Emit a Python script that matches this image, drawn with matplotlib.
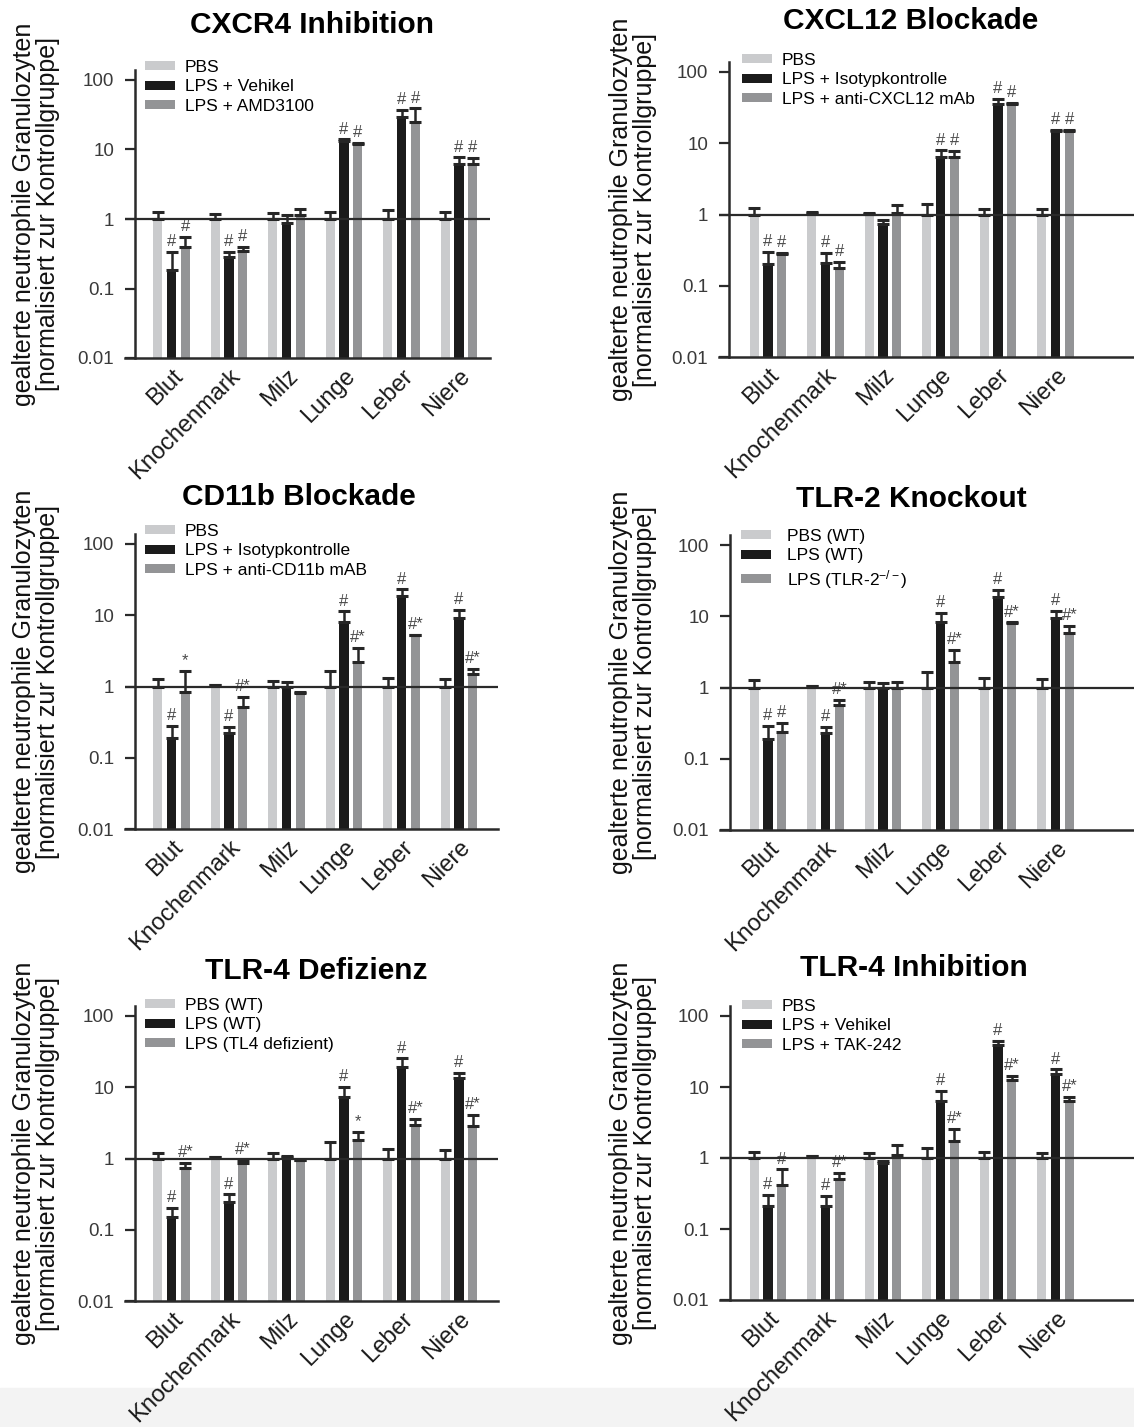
import matplotlib
matplotlib.use("Agg")
import matplotlib.pyplot as plt
from matplotlib.patches import Rectangle
import numpy as np

plt.rcParams["font.family"] = ["Liberation Sans", "DejaVu Sans"]
plt.rcParams["mathtext.fontset"] = "custom"
plt.rcParams["mathtext.rm"] = "Liberation Sans"
plt.rcParams["mathtext.it"] = "Liberation Sans:italic"

organs = ["Blut", "Knochenmark", "Milz", "Lunge", "Leber", "Niere"]
y_ticks = [0.01, 0.1, 1, 10, 100]
y_tick_labels = ["0.01", "0.1", "1", "10", "100"]
y_label = "gealterte neutrophile Granulozyten\n[normalisiert zur Kontrollgruppe]"

# --- CXCR4 Inhibition ---
cxcr4_labels = ["PBS", "LPS + Vehikel", "LPS + AMD3100"]
cxcr4_pbs = [1.0, 1.0, 1.0, 1.0, 1.0, 1.0]
cxcr4_pbs_hi = [1.25, 1.17, 1.24, 1.26, 1.33, 1.25]
cxcr4_lps = [0.186, 0.28, 0.89, 13.4, 29.7, 6.2]
cxcr4_lps_hi = [0.34, 0.34, 1.15, 14.0, 37.0, 7.7]
cxcr4_trt = [0.40, 0.35, 1.15, 12.0, 25.2, 6.2]
cxcr4_trt_hi = [0.56, 0.40, 1.40, 12.5, 39.0, 7.5]
cxcr4_lps_sig = ["#", "#", "", "#", "#", "#"]
cxcr4_trt_sig = ["#", "#", "", "#", "#", "#"]

# --- CXCL12 Blockade ---
cxcl12_labels = ["PBS", "LPS + Isotypkontrolle", "LPS + anti-CXCL12 mAb"]
cxcl12_pbs = [1.0, 1.05, 1.03, 1.0, 1.0, 1.0]
cxcl12_pbs_hi = [1.25, 1.07, 1.04, 1.39, 1.21, 1.18]
cxcl12_lps = [0.20, 0.21, 0.73, 6.4, 36.0, 14.9]
cxcl12_lps_hi = [0.30, 0.29, 0.85, 7.95, 41.8, 15.5]
cxcl12_trt = [0.28, 0.18, 1.05, 6.5, 36.0, 14.9]
cxcl12_trt_hi = [0.29, 0.215, 1.35, 7.8, 37.0, 15.5]
cxcl12_lps_sig = ["#", "#", "", "#", "#", "#"]
cxcl12_trt_sig = ["#", "#", "", "#", "#", "#"]

# --- CD11b Blockade ---
cd11b_labels = ["PBS", "LPS + Isotypkontrolle", "LPS + anti-CD11b mAB"]
cd11b_pbs = [1.0, 1.05, 1.0, 1.0, 1.0, 1.0]
cd11b_pbs_hi = [1.27, 1.06, 1.2, 1.66, 1.33, 1.27]
cd11b_lps = [0.19, 0.226, 1.0, 8.15, 18.7, 9.1]
cd11b_lps_hi = [0.28, 0.27, 1.15, 11.3, 23.1, 11.9]
cd11b_trt = [0.85, 0.52, 0.82, 2.24, 5.2, 1.5]
cd11b_trt_hi = [1.66, 0.71, 0.85, 3.44, 5.3, 1.75]
cd11b_lps_sig = ["#", "#", "", "#", "#", "#"]
cd11b_trt_sig = ["*", "#*", "", "#*", "#*", "#*"]

# --- TLR-2 Knockout ---
tlr2_labels = ["PBS (WT)", "LPS (WT)", r"LPS (TLR-2$^{\mathrm{-/-}}$)"]
tlr2_pbs = [1.0, 1.05, 1.0, 1.0, 1.0, 1.0]
tlr2_pbs_hi = [1.27, 1.06, 1.2, 1.67, 1.34, 1.3]
tlr2_lps = [0.19, 0.227, 1.0, 8.4, 18.8, 9.3]
tlr2_lps_hi = [0.29, 0.28, 1.15, 11.2, 23.4, 12.0]
tlr2_trt = [0.24, 0.56, 1.0, 2.3, 8.1, 5.9]
tlr2_trt_hi = [0.32, 0.67, 1.2, 3.4, 8.2, 7.3]
tlr2_lps_sig = ["#", "#", "", "#", "#", "#"]
tlr2_trt_sig = ["#", "#*", "", "#*", "#*", "#*"]

# --- TLR-4 Defizienz ---
tlr4d_labels = ["PBS (WT)", "LPS (WT)", "LPS (TL4 defizient)"]
tlr4d_pbs = [1.0, 1.05, 1.0, 1.0, 1.0, 1.0]
tlr4d_pbs_hi = [1.21, 1.06, 1.21, 1.69, 1.34, 1.3]
tlr4d_lps = [0.149, 0.248, 1.05, 7.2, 19.5, 13.3]
tlr4d_lps_hi = [0.204, 0.314, 1.1, 10.2, 25.5, 16.0]
tlr4d_trt = [0.74, 0.87, 0.95, 1.82, 2.95, 2.86]
tlr4d_trt_hi = [0.87, 0.95, 0.96, 2.33, 3.58, 4.1]
tlr4d_lps_sig = ["#", "#", "", "#", "#", "#"]
tlr4d_trt_sig = ["#*", "#*", "", "*", "#*", "#*"]

# --- TLR-4 Inhibition ---
tlr4i_labels = ["PBS", "LPS + Vehikel", "LPS + TAK-242"]
tlr4i_pbs = [1.0, 1.05, 1.0, 1.0, 1.0, 1.0]
tlr4i_pbs_hi = [1.23, 1.06, 1.19, 1.37, 1.23, 1.16]
tlr4i_lps = [0.21, 0.21, 0.86, 6.4, 39.0, 15.1]
tlr4i_lps_hi = [0.30, 0.29, 0.91, 8.8, 44.5, 17.7]
tlr4i_trt = [0.42, 0.50, 1.1, 1.75, 12.5, 6.4]
tlr4i_trt_hi = [0.69, 0.61, 1.52, 2.6, 14.3, 7.3]
tlr4i_lps_sig = ["#", "#", "", "#", "#", "#"]
tlr4i_trt_sig = ["#", "#*", "", "#*", "#*", "#*"]

panels = [
    ("CXCR4 Inhibition", cxcr4_labels, cxcr4_pbs, cxcr4_pbs_hi, cxcr4_lps, cxcr4_lps_hi,
     cxcr4_trt, cxcr4_trt_hi, cxcr4_lps_sig, cxcr4_trt_sig),
    ("CXCL12 Blockade", cxcl12_labels, cxcl12_pbs, cxcl12_pbs_hi, cxcl12_lps, cxcl12_lps_hi,
     cxcl12_trt, cxcl12_trt_hi, cxcl12_lps_sig, cxcl12_trt_sig),
    ("CD11b Blockade", cd11b_labels, cd11b_pbs, cd11b_pbs_hi, cd11b_lps, cd11b_lps_hi,
     cd11b_trt, cd11b_trt_hi, cd11b_lps_sig, cd11b_trt_sig),
    ("TLR-2 Knockout", tlr2_labels, tlr2_pbs, tlr2_pbs_hi, tlr2_lps, tlr2_lps_hi,
     tlr2_trt, tlr2_trt_hi, tlr2_lps_sig, tlr2_trt_sig),
    ("TLR-4 Defizienz", tlr4d_labels, tlr4d_pbs, tlr4d_pbs_hi, tlr4d_lps, tlr4d_lps_hi,
     tlr4d_trt, tlr4d_trt_hi, tlr4d_lps_sig, tlr4d_trt_sig),
    ("TLR-4 Inhibition", tlr4i_labels, tlr4i_pbs, tlr4i_pbs_hi, tlr4i_lps, tlr4i_lps_hi,
     tlr4i_trt, tlr4i_trt_hi, tlr4i_lps_sig, tlr4i_trt_sig),
]

COLORS = ["#cacbcd", "#1b1b1b", "#939496"]
ERR_COLOR = "#262626"

# layout in pixels: axes left, axes right, y of 0.01 line, px per decade
W, H = 1134, 1427
boxes = [(125, 490, 358, 69.5), (719, 1134, 357, 71.25),
         (125, 498, 829, 71.25), (720, 1134, 830, 71.25),
         (125, 498, 1301, 71.25), (720, 1134, 1300, 71.0)]
title_pos = [(312, 25), (911, 21), (299, 497), (911, 499), (316, 971), (914, 968)]
legend_pos = [(145, 60), (742, 53), (145, 524), (741, 529), (145, 998), (742, 999)]
text_pad = [0.55, 0.55, 0.55, 0.9, 0.55, 0.55]
YMAX = 138.0
GROUP_PX = 57.5
width = 0.157
offset = 0.243

fig = plt.figure(figsize=(W / 100, H / 100), dpi=100)
fig.add_artist(Rectangle((0, 0), 1, 39 / H, transform=fig.transFigure,
                         color="#f3f3f3", zorder=0))

x = np.arange(len(organs))
for i, (title, labels, pbs, pbs_hi, lps, lps_hi, trt, trt_hi, lps_sig, trt_sig) in enumerate(panels):
    left, right, base, dec = boxes[i]
    h = (np.log10(YMAX) + 2) * dec
    ax = fig.add_axes([left / W, 1 - base / H, (right - left) / W, h / H])
    ax.set_facecolor("none")
    ax.set_yscale("log")

    series = [(pbs, pbs_hi, None), (lps, lps_hi, lps_sig), (trt, trt_hi, trt_sig)]
    for k, (vals, hi, sig) in enumerate(series):
        vals = np.array(vals)
        hi = np.array(hi)
        xs = x + (k - 1) * offset
        ax.bar(xs, vals, width, color=COLORS[k], edgecolor="none",
               label=labels[k], zorder=2)
        ax.errorbar(xs, vals, yerr=[np.zeros_like(vals), hi - vals], fmt="none",
                    ecolor=ERR_COLOR, elinewidth=1.8, capsize=4.5, capthick=2.2, zorder=3)
        if sig is not None:
            for xi, top, s in zip(xs, hi, sig):
                if s:
                    ax.annotate(s, (xi, top), xytext=(0, 2), textcoords="offset points",
                                ha="center", va="bottom", fontsize=12, color="#4a4a4a")

    ax.axhline(1, color="#2a2a2a", lw=1.6, zorder=4)

    mid = 171.5 if left < 500 else 768
    ax.set_xlim((left - mid) / GROUP_PX, (right - mid) / GROUP_PX)
    ax.set_ylim(0.01, YMAX)
    ax.set_yticks(y_ticks)
    ax.set_yticklabels(y_tick_labels)
    ax.yaxis.set_minor_locator(plt.NullLocator())
    ax.set_xticks(x)
    ax.set_xticklabels(organs, rotation=45, ha="right", va="top",
                       rotation_mode="anchor", fontsize=17, color="#1a1a1a")
    ax.tick_params(axis="x", length=0, pad=5)
    ax.tick_params(axis="y", length=7, width=1.6, pad=8, labelsize=13.5,
                   labelcolor="#3a3a3a", color="#2a2a2a")

    for sp in ["top", "right"]:
        ax.spines[sp].set_visible(False)
    ax.spines["left"].set_position(("axes", 10 / (right - left)))
    ax.spines["left"].set_linewidth(1.8)
    ax.spines["bottom"].set_linewidth(1.8)
    ax.spines["left"].set_color("#2a2a2a")
    ax.spines["bottom"].set_color("#2a2a2a")

    ax.set_ylabel(y_label, fontsize=18, linespacing=1.0, color="#111111")
    lab_x = 60 if left < 500 else 657
    ax.yaxis.set_label_coords((lab_x - left) / (right - left), 0.5)

    tx, ty = title_pos[i]
    fig.text(tx / W, 1 - ty / H, title, ha="center", va="center",
             fontsize=21.5, fontweight="bold")

    lx, ly = legend_pos[i]
    ax.legend(loc="upper left", bbox_to_anchor=(lx / W, 1 - ly / H),
              bbox_transform=fig.transFigure, frameon=False, fontsize=12.5,
              borderpad=0, borderaxespad=0, handlelength=1.75, handleheight=0.42,
              handletextpad=text_pad[i], labelspacing=0.25)

fig.savefig("out.png", dpi=100)
